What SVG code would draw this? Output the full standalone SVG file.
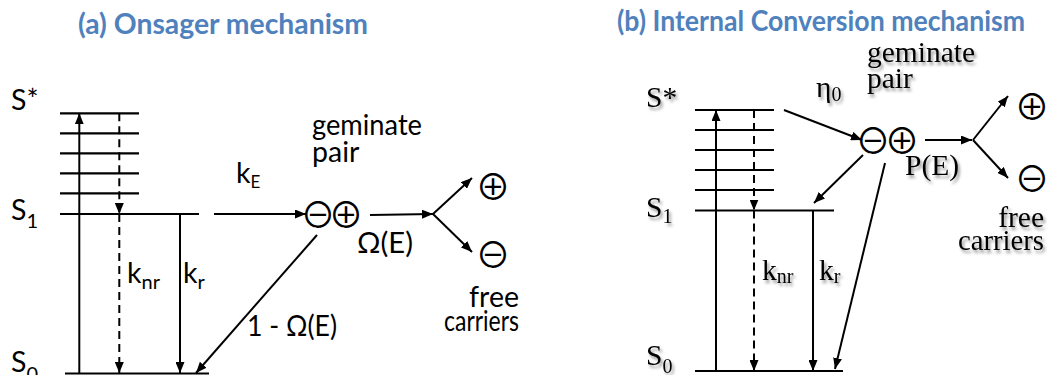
<svg xmlns="http://www.w3.org/2000/svg" width="1047" height="375" viewBox="0 0 1047 375">
<defs>
<marker id="ah" viewBox="0 0 11 9" refX="11" refY="4.5" markerWidth="11" markerHeight="9" markerUnits="userSpaceOnUse" orient="auto">
<path d="M0,0 L11,4.5 L0,9 z" fill="#000"/>
</marker>
<filter id="sh" x="-20%" y="-30%" width="140%" height="170%">
<feDropShadow dx="2" dy="3" stdDeviation="1.6" flood-color="#000" flood-opacity="0.4"/>
</filter>
<style>
.title{font-family:Lato,"Open Sans",sans-serif;font-weight:bold;font-size:29px;fill:#4F81BD}
.sa{font-family:Lato,"Open Sans","DejaVu Sans",sans-serif;font-size:28.5px;fill:#000}
.sb{font-family:"Liberation Serif","DejaVu Serif",serif;font-size:29.5px;fill:#000;filter:url(#sh)}
.sym{font-family:"Noto Sans CJK JP","DejaVu Sans",sans-serif;font-weight:400;font-size:35px;fill:#000}
.lv{stroke:#000;stroke-width:2.2;fill:none}
.ar{stroke:#000;stroke-width:2;fill:none;marker-end:url(#ah)}
.da{stroke:#000;stroke-width:2;fill:none;stroke-dasharray:8 5;marker-end:url(#ah)}
</style>
</defs>
<rect width="1047" height="375" fill="#fff"/>

<g id="titles">
<text class="title" x="78" y="34" textLength="290" lengthAdjust="spacingAndGlyphs">(a) Onsager mechanism</text>
<text class="title" x="617" y="31" textLength="408" lengthAdjust="spacingAndGlyphs">(b) Internal Conversion mechanism</text>
</g>

<!-- Panel (a) -->
<g id="a-levels">
<line class="lv" x1="60" y1="113.3" x2="139" y2="113.3"/>
<line class="lv" x1="60" y1="133.3" x2="139" y2="133.3"/>
<line class="lv" x1="60" y1="153.3" x2="139" y2="153.3"/>
<line class="lv" x1="60" y1="173.3" x2="139" y2="173.3"/>
<line class="lv" x1="60" y1="193.3" x2="139" y2="193.3"/>
<line class="lv" x1="60" y1="214" x2="199" y2="214"/>
<line class="lv" x1="65" y1="373.5" x2="209" y2="373.5"/>
</g>
<g id="a-labels">
<text class="sa" x="11" y="110">S*</text>
<text class="sa" x="11" y="220">S<tspan font-size="20" dy="8">1</tspan></text>
<text class="sa" x="11" y="372">S<tspan font-size="20" dy="9">0</tspan></text>
<text class="sa" x="127" y="283">k<tspan font-size="20" dy="6">nr</tspan></text>
<text class="sa" x="183" y="283">k<tspan font-size="20" dy="6">r</tspan></text>
<text class="sa" x="236" y="183">k<tspan font-size="17" dy="5">E</tspan></text>
<text class="sa" x="312" y="135" textLength="110" lengthAdjust="spacingAndGlyphs">geminate</text>
<text class="sa" x="312" y="162">pair</text>
<text class="sa" x="357" y="253" textLength="56" lengthAdjust="spacingAndGlyphs">Ω(E)</text>
<text class="sa" x="247" y="336" textLength="90" lengthAdjust="spacingAndGlyphs">1 - Ω(E)</text>
<text class="sa" x="519" y="307" text-anchor="end">free</text>
<text class="sa" x="519" y="331" text-anchor="end" textLength="75" lengthAdjust="spacingAndGlyphs">carriers</text>
</g>
<g id="a-pair">
<text class="sym" x="318" y="227.5" text-anchor="middle">⊖</text>
<text class="sym" x="346" y="227.5" text-anchor="middle">⊕</text>
</g>
<g id="a-free">
<text class="sym" x="493" y="199.5" text-anchor="middle">⊕</text>
<text class="sym" x="493" y="267.5" text-anchor="middle">⊖</text>
</g>
<g id="a-connectors">
<line class="ar" x1="79.3" y1="373" x2="79.3" y2="113.3"/>
<line class="da" x1="119.3" y1="113.3" x2="119.3" y2="214"/>
<line class="da" x1="119.3" y1="214" x2="119.3" y2="373"/>
<line class="ar" x1="180" y1="214" x2="180" y2="373"/>
<line class="ar" x1="214" y1="214" x2="306" y2="214"/>
<line class="ar" x1="317" y1="235" x2="196" y2="373"/>
<line class="ar" x1="370" y1="215" x2="433" y2="214"/>
<line class="ar" x1="433" y1="214" x2="472" y2="178"/>
<line class="ar" x1="433" y1="214" x2="472" y2="252"/>
</g>

<!-- Panel (b) -->
<g id="b-levels">
<line class="lv" x1="695" y1="110" x2="774" y2="110"/>
<line class="lv" x1="695" y1="130" x2="774" y2="130"/>
<line class="lv" x1="695" y1="150" x2="774" y2="150"/>
<line class="lv" x1="695" y1="170" x2="774" y2="170"/>
<line class="lv" x1="695" y1="190" x2="774" y2="190"/>
<line class="lv" x1="695" y1="210.5" x2="834" y2="210.5"/>
<line class="lv" x1="695" y1="371" x2="843" y2="371"/>
</g>
<g id="b-labels">
<text class="sb" x="646" y="107">S*</text>
<text class="sb" x="646" y="217">S<tspan font-size="20" dy="6">1</tspan></text>
<text class="sb" x="646" y="365">S<tspan font-size="20" dy="8">0</tspan></text>
<text class="sb" x="762" y="280">k<tspan font-size="20" dy="3">nr</tspan></text>
<text class="sb" x="819" y="280">k<tspan font-size="20" dy="3">r</tspan></text>
<text class="sb" x="816" y="97">η<tspan font-size="20" dy="4">0</tspan></text>
<text class="sb" x="867" y="62" textLength="108" lengthAdjust="spacingAndGlyphs">geminate</text>
<text class="sb" x="867" y="88">pair</text>
<text class="sb" x="905" y="175">P(E)</text>
<text class="sb" x="1044" y="227" text-anchor="end">free</text>
<text class="sb" x="1044" y="250" text-anchor="end" textLength="86" lengthAdjust="spacingAndGlyphs">carriers</text>
</g>
<g id="b-pair">
<text class="sym" x="873" y="153.5" text-anchor="middle">⊖</text>
<text class="sym" x="902" y="153.5" text-anchor="middle">⊕</text>
</g>
<g id="b-free">
<text class="sym" x="1032" y="119.5" text-anchor="middle">⊕</text>
<text class="sym" x="1032" y="191.5" text-anchor="middle">⊖</text>
</g>
<g id="b-connectors">
<line class="ar" x1="716" y1="371" x2="716" y2="110"/>
<line class="da" x1="754" y1="110" x2="754" y2="210.5"/>
<line class="da" x1="754" y1="210.5" x2="754" y2="371"/>
<line class="ar" x1="813" y1="210.5" x2="813" y2="371"/>
<line class="ar" x1="784" y1="110" x2="862" y2="140"/>
<line class="ar" x1="863" y1="155" x2="814" y2="203"/>
<line class="ar" x1="885" y1="163" x2="835" y2="369"/>
<line class="ar" x1="925" y1="140" x2="972" y2="140"/>
<line class="ar" x1="973" y1="140" x2="1008" y2="96"/>
<line class="ar" x1="973" y1="140" x2="1008" y2="178"/>
</g>
</svg>
